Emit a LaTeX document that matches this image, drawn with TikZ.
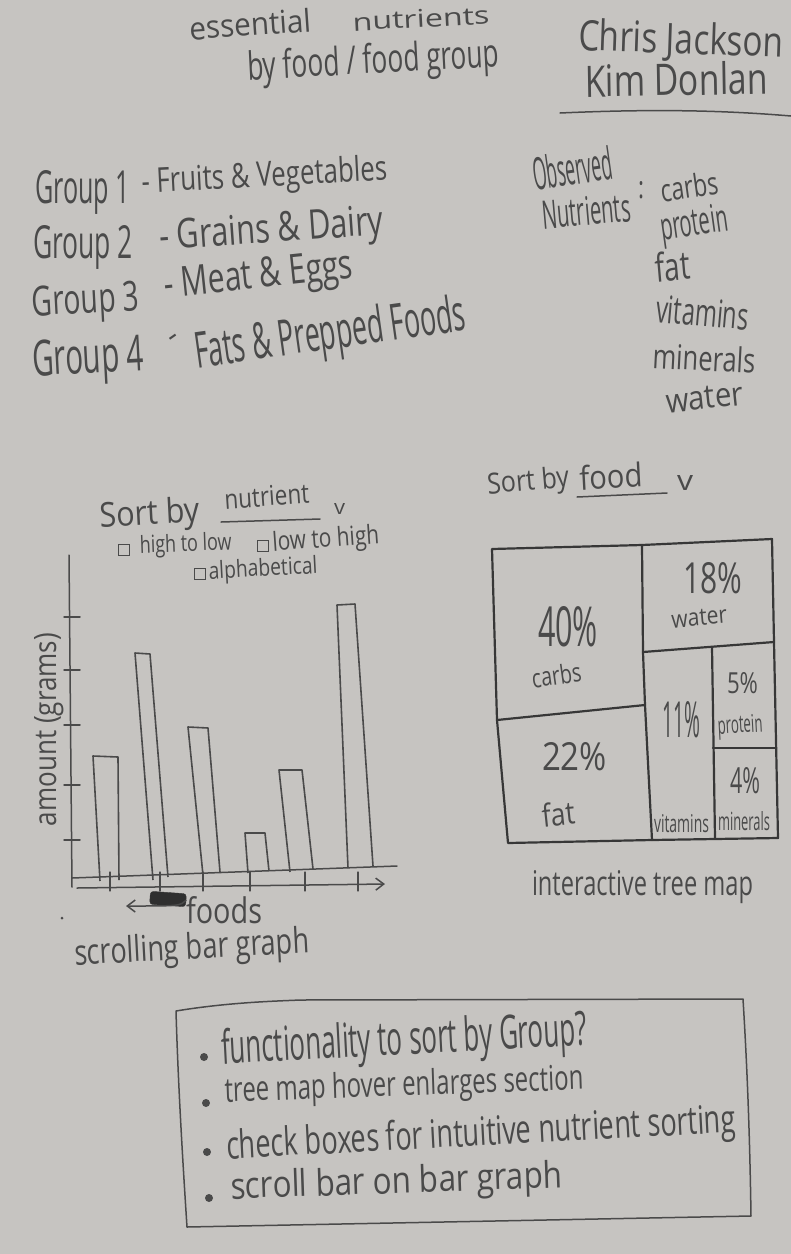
\documentclass[tikz,border=0pt]{standalone}
\usepackage{fontspec}
\setmainfont{Open Sans}
\usepackage{graphicx}
\usetikzlibrary{arrows.meta}
\definecolor{paper}{RGB}{198,196,193}
\definecolor{pencil}{RGB}{74,74,74}
\definecolor{lead}{RGB}{55,55,55}
% width, height above baseline, text
\newcommand{\hw}[3]{\resizebox{#1pt}{#2pt}{#3}}
\tikzset{
  note/.style={anchor=base west, inner sep=0pt, outer sep=0pt, text=pencil},
  pen/.style={draw=pencil, line width=1.5pt, line cap=round, line join=round},
  heavy/.style={draw=lead, line width=2.2pt, line cap=round, line join=round},
  chkbox/.style={draw=pencil, line width=1.3pt, minimum size=10.5pt, inner sep=0pt},
  dotb/.style={circle, fill=pencil, inner sep=0pt, minimum size=8pt},
  bar/.style={draw=pencil, line width=1.6pt, line join=round},
}
\begin{document}
\begin{tikzpicture}[x=1pt,y=-1pt]
\fill[paper] (0,0) rectangle (791,1254);
\useasboundingbox (0,0) rectangle (791,1254);

% ---------- heading ----------
\node[note, rotate=4] (t1a) at (190,40) {\hw{122}{24}{essential}};
\node[note, rotate=3] (t1b) at (353,31) {\hw{137}{18}{nutrients}};
\node[note, rotate=3] (t2) at (248,80) {\hw{252}{30}{by food / food group}};
\node[note, rotate=-2] (n1) at (578,50) {\hw{205}{32}{Chris Jackson}};
\node[note, rotate=1] (n2) at (585,97) {\hw{183}{33}{Kim Donlan}};
\draw[pen] (560,113) .. controls (650,109) and (720,110) .. (791,116);

% ---------- food groups ----------
\node[note] (g1) at (35,203) {\hw{95}{33}{Group 1}};
\node[note, rotate=3] (g1t) at (142,193) {\hw{246}{26}{- Fruits \& Vegetables}};
\node[note] (g2) at (33,258) {\hw{100}{33}{Group 2}};
\node[note, rotate=4] (g2t) at (160,250) {\hw{225}{30}{- Grains \& Dairy}};
\node[note, rotate=3] (g3) at (33,316) {\hw{107}{30}{Group 3}};
\node[note, rotate=6] (g3t) at (165,298) {\hw{190}{30}{- Meat \& Eggs}};
\node[note, rotate=3] (g4) at (33,376) {\hw{112}{36}{Group 4}};
\node[note, rotate=35] (g4d) at (173,346) {\hw{10}{9}{-}};
\node[note, rotate=8] (g4t) at (197,368) {\hw{273}{38}{Fats \& Prepped Foods}};

% ---------- observed nutrients ----------
\node[note, rotate=8] (ob1) at (535,190) {\hw{80}{34}{Observed}};
\node[note, rotate=5] (ob2) at (543,229) {\hw{89}{29}{Nutrients}};
\node[note] (col) at (638,198) {\hw{6}{17}{:}};
\node[note, rotate=8] (l1) at (662,202) {\hw{58}{24}{carbs}};
\node[note, rotate=8] (l2) at (662,240) {\hw{68}{28}{protein}};
\node[note, rotate=5] (l3) at (656,282) {\hw{35}{30}{fat}};
\node[note, rotate=-5] (l4) at (655,322) {\hw{93}{28}{vitamins}};
\node[note, rotate=-3] (l5) at (652,368) {\hw{103}{26}{minerals}};
\node[note, rotate=6] (l6) at (667,413) {\hw{78}{22}{water}};

% ---------- bar graph controls ----------
\node[note, rotate=3] (sb1) at (100,527) {\hw{100}{26}{Sort by}};
\node[note, rotate=4] (sb2) at (225,509) {\hw{85}{20}{nutrient}};
\draw[pen] (221,522) -- (320,519);
\node[note] (sb3) at (334,514) {\hw{11}{11}{v}};
\node[chkbox] (c1) at (124,550) {};
\node[note, rotate=2] (c1t) at (140,553) {\hw{92}{18}{high to low}};
\node[chkbox] (c2) at (263,546) {};
\node[note, rotate=4] (c2t) at (273,551) {\hw{107}{20}{low to high}};
\node[chkbox] (c3) at (200,574) {};
\node[note, rotate=3] (c3t) at (209,579) {\hw{109}{18}{alphabetical}};

% ---------- bar graph ----------
\draw[pen] (69,555) -- (72,887);
\foreach \ty in {617,670,725,785,840} \draw[pen] (64,\ty) -- (80,\ty);
\draw[pen] (72,878) -- (397,866);
\draw[bar] (100,881) -- (93,756) -- (118,757) -- (119,880);
\draw[bar] (153,880) -- (135,653) -- (150,654) -- (168,877);
\draw[bar] (203,875) -- (188,727) -- (208,728) -- (220,872);
\draw[bar] (248,873) -- (245,833) -- (265,833) -- (269,871);
\draw[bar] (290,872) -- (279,770) -- (302,770) -- (313,869);
\draw[bar] (348,868) -- (337,605) -- (355,604) -- (373,866);
\foreach \tx in {110,160,203,250,305,358} \draw[pen, line width=1.2pt] (\tx,872) -- (\tx,891);
\coordinate (xa0) at (77,888);
\coordinate (xa1) at (385,884);
\draw[pen, -{Straight Barb[length=8pt,width=12pt]}] (xa0) -- (xa1);
% scroll bar thumb and its arrow
\node[draw=lead, fill=lead!85!black, rounded corners=3pt, minimum width=36pt, minimum height=13pt, inner sep=0pt, rotate=-4] (thumb) at (168,899) {};
\coordinate (sl) at (126,906);
\draw[pen, -{Straight Barb[length=8pt,width=12pt]}] (thumb.east) .. controls (180,906) .. (sl);
\node[note] (fx) at (186,923) {\hw{76}{27}{foods}};
\node[note, rotate=90] (fy) at (56,826) {\hw{193}{22}{amount (grams)}};
\node[note, rotate=3] (cap1) at (75,965) {\hw{235}{27}{scrolling bar graph}};
\fill[pencil] (62,918) circle (1.5pt);

% ---------- tree map ----------
\node[note, rotate=5] (sf1) at (488,494) {\hw{82}{22}{Sort by}};
\node[note, rotate=3] (sf2) at (580,490) {\hw{63}{25}{food}};
\draw[pen] (577,497) -- (667,493);
\node[note] (sf3) at (677,490) {\hw{16}{15}{v}};

\coordinate (tl) at (492,549);
\coordinate (tm) at (642,545);
\coordinate (tr) at (772,539);
\coordinate (br) at (778,838);
\coordinate (bm) at (652,840);
\coordinate (bl) at (508,843);
\draw[heavy] (tl) -- (tm) -- (tr) -- (774,642) -- (br) -- (bm) -- (bl) -- (497,720) -- cycle;
\draw[heavy] (tm) -- (643,652) -- (645,705) -- (bm);
\draw[heavy] (497,720) -- (645,705);
\draw[heavy] (643,652) -- (774,642);
\draw[heavy] (712,647) -- (715,838);
\draw[heavy] (713,748) -- (776,748);

\node[note] (p40) at (538,646) {\hw{60}{40}{40\%}};
\node[note, rotate=8] (pc) at (533,688) {\hw{50}{20}{carbs}};
\node[note] (p22) at (542,770) {\hw{65}{28}{22\%}};
\node[note, rotate=6] (pf) at (543,827) {\hw{33}{24}{fat}};
\node[note] (p18) at (683,593) {\hw{59}{31}{18\%}};
\node[note, rotate=5] (pw) at (672,628) {\hw{56}{16}{water}};
\node[note] (p11) at (662,737) {\hw{38}{36}{11\%}};
\node[note] (pv) at (654,832) {\hw{55}{18}{vitamins}};
\node[note] (p5) at (727,693) {\hw{31}{21}{5\%}};
\node[note, rotate=3] (pp) at (718,734) {\hw{45}{18}{protein}};
\node[note] (p4) at (730,793) {\hw{30}{26}{4\%}};
\node[note] (pm) at (718,830) {\hw{52}{19}{minerals}};
\node[note] (cap2) at (532,895) {\hw{221}{25}{interactive tree map}};

% ---------- notes box ----------
\draw[pen] (176,1011) .. controls (230,1002) and (280,1001) .. (300,1000)
  -- (743,999) .. controls (748,1080) and (750,1150) .. (751,1216)
  -- (187,1227) .. controls (182,1150) and (178,1080) .. cycle;
\node[dotb] (b1) at (204,1057) {};
\node[dotb] (b2) at (206,1103) {};
\node[dotb] (b3) at (207,1152) {};
\node[dotb] (b4) at (209,1198) {};
\node[note, rotate=3] (i1) at (222,1064) {\hw{366}{36}{functionality to sort by Group?}};
\node[note, rotate=2] (i2) at (225,1102) {\hw{359}{26}{tree map hover enlarges section}};
\node[note, rotate=3] (i3) at (227,1159) {\hw{510}{30}{check boxes for intuitive nutrient sorting}};
\node[note, rotate=2] (i4) at (231,1199) {\hw{332}{28}{scroll bar on bar graph}};
\end{tikzpicture}
\end{document}
